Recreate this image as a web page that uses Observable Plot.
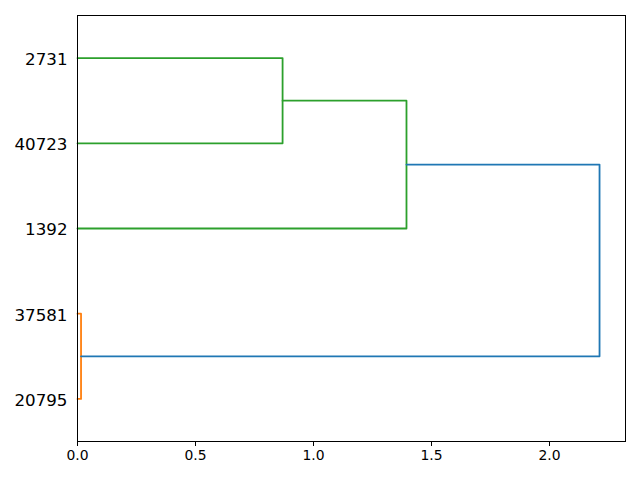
<!DOCTYPE html>
<html>
<head>
<meta charset="utf-8">
<script src="https://cdn.jsdelivr.net/npm/d3@7"></script>
<script src="https://cdn.jsdelivr.net/npm/@observablehq/plot@0.6"></script>
<style>
  html, body { margin: 0; padding: 0; background: #fff; }
  svg { display: block; }
</style>
</head>
<body>
<div id="chart"></div>
<script>
// Leaf labels (bottom to top = positions 5..45)
const leafLabels = ["20795", "37581", "1392", "40723", "2731"];
const leafPositions = [5, 15, 25, 35, 45];

// Dendrogram links (scipy style): leaf-axis coordinates and distances
const linkIcoord = [
  [5, 5, 15, 15],
  [35, 35, 45, 45],
  [25, 25, 40, 40],
  [10, 10, 32.5, 32.5]
];
const linkDcoord = [
  [0, 0.015, 0.015, 0],
  [0, 0.869, 0.869, 0],
  [0, 1.394, 1.394, 0.869],
  [0.015, 2.212, 2.212, 1.394]
];
const linkColors = ["#ff7f0e", "#2ca02c", "#2ca02c", "#1f77b4"];
const xTicks = [0, 0.5, 1.0, 1.5, 2.0];

const rows = [];
linkIcoord.forEach((ic, k) => {
  ic.forEach((y, j) => rows.push({link: k, y, d: linkDcoord[k][j], color: linkColors[k]}));
});

const labelOf = new Map(leafPositions.map((p, i) => [p, leafLabels[i]]));

const chart = Plot.plot({
  width: 640,
  height: 480,
  marginLeft: 77,
  marginRight: 15,
  marginTop: 15,
  marginBottom: 39,
  style: {fontFamily: "DejaVu Sans", background: "#fff", color: "#000"},
  x: {domain: [0, 2.322], label: null},
  y: {domain: [0, 50], label: null},
  marks: [
    Plot.line(rows, {x: "d", y: "y", z: "link", stroke: "color", strokeWidth: 1.8}),
    Plot.axisX({ticks: xTicks, tickFormat: d3.format(".1f"), tickSize: 5, tickPadding: 4, fontSize: 13.9, label: null}),
    Plot.axisY({ticks: leafPositions, tickFormat: d => labelOf.get(d), tickSize: 0, tickPadding: 10, fontSize: 16.7, dy: 1.5, label: null}),
    Plot.frame({stroke: "#000", strokeWidth: 1})
  ]
});
document.getElementById("chart").appendChild(chart);
</script>
</body>
</html>
